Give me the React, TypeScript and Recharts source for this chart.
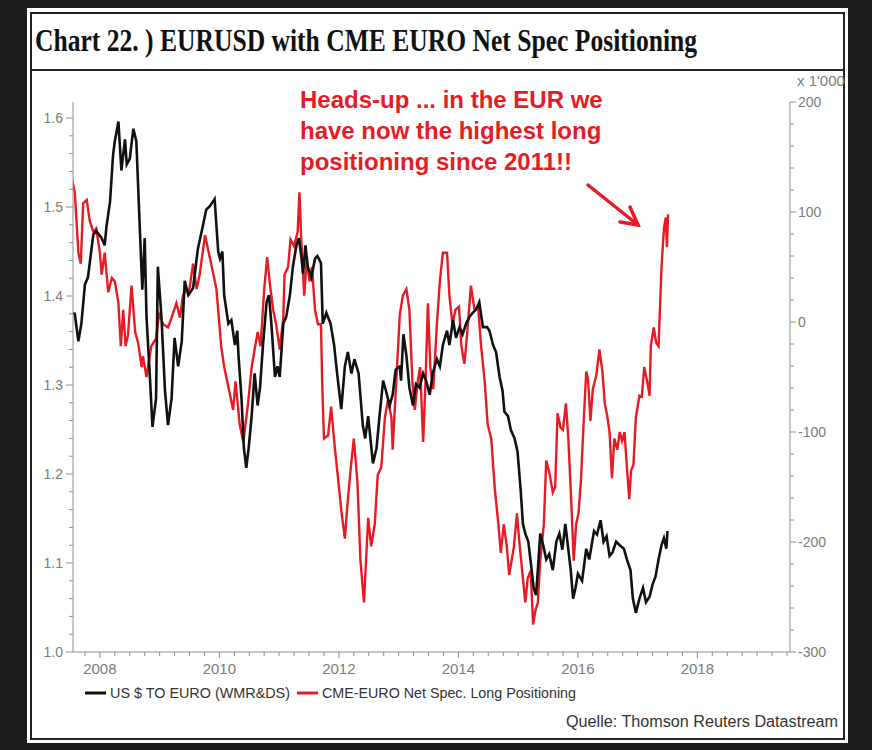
import React from 'react';
import { LineChart, Line, XAxis, YAxis } from 'recharts';

// ---------- DATA ----------
const eurTimes = [
  2007.53, 2007.58, 2007.64, 2007.69, 2007.75, 2007.8, 2007.89, 2007.94, 2008.03, 2008.08,
  2008.11, 2008.17, 2008.22, 2008.25, 2008.31, 2008.36, 2008.42, 2008.45, 2008.5, 2008.56,
  2008.61, 2008.67, 2008.71, 2008.75, 2008.78, 2008.84, 2008.88, 2008.94, 2008.97, 2009.03,
  2009.09, 2009.14, 2009.2, 2009.25, 2009.31, 2009.37, 2009.42, 2009.48, 2009.56, 2009.64,
  2009.73, 2009.78, 2009.84, 2009.92, 2009.98, 2010.01, 2010.05, 2010.08, 2010.15, 2010.2,
  2010.26, 2010.3, 2010.32, 2010.37, 2010.41, 2010.45, 2010.49, 2010.54, 2010.59, 2010.64,
  2010.68, 2010.73, 2010.79, 2010.83, 2010.87, 2010.93, 2010.97, 2011.01, 2011.07, 2011.12,
  2011.18, 2011.23, 2011.29, 2011.33, 2011.37, 2011.4, 2011.44, 2011.48, 2011.54, 2011.6,
  2011.64, 2011.7, 2011.73, 2011.79, 2011.86, 2011.92, 2011.97, 2012.04, 2012.1, 2012.15,
  2012.21, 2012.26, 2012.33, 2012.4, 2012.44, 2012.49, 2012.57, 2012.63, 2012.68, 2012.74,
  2012.79, 2012.85, 2012.9, 2012.95, 2013.02, 2013.04, 2013.08, 2013.13, 2013.18, 2013.24,
  2013.29, 2013.35, 2013.41, 2013.46, 2013.52, 2013.57, 2013.64, 2013.69, 2013.74, 2013.81,
  2013.85, 2013.91, 2013.96, 2014.02, 2014.07, 2014.13, 2014.19, 2014.24, 2014.3, 2014.35,
  2014.41, 2014.48, 2014.52, 2014.58, 2014.63, 2014.69, 2014.74, 2014.77, 2014.83, 2014.88,
  2014.94, 2014.99, 2015.04, 2015.08, 2015.12, 2015.17, 2015.22, 2015.26, 2015.3, 2015.33,
  2015.37, 2015.42, 2015.47, 2015.52, 2015.58, 2015.64, 2015.69, 2015.74, 2015.79, 2015.84,
  2015.88, 2015.92, 2015.96, 2016.0, 2016.07, 2016.14, 2016.19, 2016.27, 2016.32, 2016.38,
  2016.43, 2016.48, 2016.53, 2016.58, 2016.64, 2016.7, 2016.77, 2016.82, 2016.88, 2016.92,
  2016.97, 2017.03, 2017.09, 2017.14, 2017.2, 2017.25, 2017.3, 2017.35, 2017.4, 2017.44,
  2017.48, 2017.5,
];
const eurValues = [
  1.381, 1.38, 1.349, 1.369, 1.413, 1.421, 1.469, 1.473, 1.465, 1.457,
  1.478, 1.506, 1.558, 1.574, 1.596, 1.541, 1.576, 1.548, 1.554, 1.588,
  1.574, 1.473, 1.407, 1.465, 1.377, 1.305, 1.253, 1.285, 1.433, 1.377,
  1.293, 1.255, 1.285, 1.353, 1.321, 1.349, 1.417, 1.401, 1.409, 1.453,
  1.481, 1.497, 1.501, 1.509, 1.45, 1.442, 1.45, 1.401, 1.369, 1.373,
  1.345, 1.361, 1.333, 1.285, 1.229, 1.207, 1.229, 1.265, 1.313, 1.277,
  1.297, 1.345, 1.393, 1.401, 1.369, 1.309, 1.321, 1.309, 1.369, 1.377,
  1.401, 1.433, 1.457, 1.465, 1.445, 1.425, 1.457, 1.433, 1.421, 1.442,
  1.445, 1.437, 1.369, 1.381, 1.369, 1.345, 1.313, 1.273, 1.321, 1.337,
  1.313, 1.329, 1.313, 1.255, 1.24, 1.265, 1.212, 1.229, 1.265, 1.305,
  1.293, 1.277, 1.289, 1.317, 1.321, 1.305, 1.357, 1.333, 1.297, 1.277,
  1.301, 1.297, 1.313, 1.305, 1.289, 1.313, 1.329, 1.321, 1.345, 1.361,
  1.345, 1.373, 1.353, 1.365, 1.357, 1.369, 1.377, 1.381, 1.385, 1.393,
  1.365, 1.365, 1.361, 1.345, 1.337, 1.309, 1.293, 1.27, 1.265, 1.249,
  1.24, 1.225, 1.184, 1.144, 1.133, 1.124, 1.096, 1.072, 1.064, 1.092,
  1.133, 1.12, 1.104, 1.11, 1.092, 1.124, 1.133, 1.115, 1.144, 1.115,
  1.092, 1.06, 1.072, 1.088, 1.08, 1.116, 1.104, 1.136, 1.132, 1.148,
  1.124, 1.13, 1.108, 1.112, 1.124, 1.12, 1.116, 1.104, 1.092, 1.06,
  1.044, 1.06, 1.072, 1.056, 1.062, 1.076, 1.085, 1.104, 1.12, 1.128,
  1.116, 1.136,
];

const posTimes = [
  2007.53, 2007.58, 2007.64, 2007.68, 2007.72, 2007.78, 2007.83, 2007.89, 2007.94, 2008.0,
  2008.03, 2008.08, 2008.14, 2008.2, 2008.25, 2008.31, 2008.35, 2008.39, 2008.43, 2008.47,
  2008.53, 2008.59, 2008.64, 2008.7, 2008.72, 2008.78, 2008.86, 2008.94, 2008.99, 2009.06,
  2009.14, 2009.2, 2009.28, 2009.34, 2009.39, 2009.45, 2009.49, 2009.56, 2009.62, 2009.67,
  2009.76, 2009.81, 2009.89, 2009.95, 2009.99, 2010.03, 2010.08, 2010.17, 2010.23, 2010.27,
  2010.34, 2010.4, 2010.48, 2010.54, 2010.64, 2010.69, 2010.75, 2010.8, 2010.84, 2010.9,
  2010.95, 2011.01, 2011.07, 2011.09, 2011.15, 2011.19, 2011.25, 2011.31, 2011.34, 2011.37,
  2011.42, 2011.46, 2011.51, 2011.55, 2011.6, 2011.65, 2011.7, 2011.72, 2011.75, 2011.82,
  2011.87, 2011.93, 2011.98, 2012.04, 2012.1, 2012.14, 2012.2, 2012.25, 2012.31, 2012.36,
  2012.42, 2012.49, 2012.54, 2012.6, 2012.65, 2012.71, 2012.77, 2012.82, 2012.88, 2012.9,
  2012.96, 2013.02, 2013.07, 2013.13, 2013.18, 2013.23, 2013.27, 2013.32, 2013.36, 2013.41,
  2013.45, 2013.49, 2013.53, 2013.58, 2013.64, 2013.69, 2013.74, 2013.81, 2013.85, 2013.9,
  2013.95, 2014.01, 2014.05, 2014.1, 2014.14, 2014.21, 2014.27, 2014.33, 2014.38, 2014.44,
  2014.49, 2014.55, 2014.61, 2014.67, 2014.71, 2014.76, 2014.81, 2014.85, 2014.93, 2014.98,
  2015.02, 2015.08, 2015.12, 2015.16, 2015.21, 2015.25, 2015.29, 2015.33, 2015.37, 2015.43,
  2015.47, 2015.53, 2015.58, 2015.62, 2015.66, 2015.71, 2015.75, 2015.8, 2015.84, 2015.89,
  2015.93, 2015.97, 2016.01, 2016.05, 2016.1, 2016.14, 2016.17, 2016.21, 2016.25, 2016.31,
  2016.36, 2016.41, 2016.45, 2016.49, 2016.53, 2016.57, 2016.61, 2016.66, 2016.7, 2016.74,
  2016.78, 2016.82, 2016.86, 2016.89, 2016.93, 2016.97, 2017.03, 2017.07, 2017.11, 2017.16,
  2017.2, 2017.22, 2017.27, 2017.31, 2017.35, 2017.4, 2017.44, 2017.47, 2017.49, 2017.51,
];
const posValues = [
  131, 118, 63, 53, 108, 111, 92, 82, 85, 63,
  43, 63, 27, 40, 37, 17, -22, 11, -22, -12,
  33, -9, -19, -41, -31, -50, -22, -15, 7, -2,
  -5, 4, 17, 4, 24, 30, 27, 53, 30, 43,
  79, 66, 46, 30, 4, -22, -41, -64, -80, -54,
  -93, -109, -74, -41, -9, -22, 30, 59, 37, 11,
  -2, -25, 4, 43, 50, 75, 69, 82, 118, 75,
  24, 56, 37, 50, 11, -2, -2, -54, -106, -103,
  -77, -113, -139, -171, -197, -168, -132, -106, -145, -216,
  -255, -178, -204, -184, -139, -132, -87, -71, -87, -116,
  -54, 7, 24, 30, 11, -54, -80, -54, -41, -109,
  -54, 17, -41, -61, -2, 37, 63, 63, 24, -2,
  11, 14, -22, -38, -15, 33, 11, 14, -22, -54,
  -93, -106, -152, -184, -210, -184, -204, -230, -204, -174,
  -200, -233, -255, -233, -226, -275, -262, -255, -217, -184,
  -126, -139, -155, -150, -83, -96, -98, -74, -106, -164,
  -217, -184, -174, -145, -87, -45, -52, -90, -61, -48,
  -25, -45, -74, -85, -100, -142, -106, -116, -100, -108,
  -100, -132, -161, -135, -130, -87, -67, -68, -41, -54,
  -67, -22, -5, -19, -22, 50, 85, 95, 68, 98,
];

const yearLabels = [2008, 2010, 2012, 2014, 2016, 2018];
const leftLabels = [1.0, 1.1, 1.2, 1.3, 1.4, 1.5, 1.6];
const rightLabels = [-300, -200, -100, 0, 100, 200];
const seriesNames = ['US $ TO EURO (WMR&DS)', 'CME-EURO Net Spec. Long Positioning'];
const titleText = 'Chart 22. )  EURUSD with CME EURO Net Spec Positioning';
const noteLines = ['Heads-up ... in the EUR we', 'have now the highest long', 'positioning since 2011!!'];
const sourceText = 'Quelle: Thomson Reuters Datastream';
const unitText = "x 1'000";

// ---------- DERIVED ----------
const eurData = eurTimes.map((t, i) => ({ t, v: eurValues[i] }));
const posData = posTimes.map((t, i) => ({ t, v: posValues[i] }));

const xTicks: number[] = [];
for (let k = 0; k <= 47; k++) xTicks.push(Math.round((2007.75 + k * 0.25) * 100) / 100);
const leftTicks: number[] = [];
for (let k = 0; k <= 30; k++) leftTicks.push(Math.round((1 + k * 0.02) * 100) / 100);
const rightTicks: number[] = [];
for (let k = -300; k <= 200; k += 20) rightTicks.push(k);

const AXIS = '#8e8e8e';
const LABEL = '#7c7c7c';
const RED = '#e61b24';
const BLACK = '#111111';
const SANS = '"Liberation Sans", Arial, sans-serif';

const near = (a: number, list: number[]) => list.some((b) => Math.abs(a - b) < 1e-6);

const XTick = (p: any) => {
  const { x, y, payload } = p;
  const v = payload.value;
  const major = near(v, yearLabels);
  return (
    <g>
      <line x1={x} y1={y} x2={x} y2={y + (major ? 6 : 4)} stroke={AXIS} strokeWidth={1} />
      {major && (
        <text x={x} y={y + 22} textAnchor="middle" fill={LABEL} fontSize={15} fontFamily={SANS}>
          {String(v)}
        </text>
      )}
    </g>
  );
};

const LeftTick = (p: any) => {
  const { x, y, payload } = p;
  const v = payload.value;
  const major = near(v, leftLabels);
  return (
    <g>
      <line x1={x} y1={y} x2={x - (major ? 7 : 4)} y2={y} stroke={AXIS} strokeWidth={1} />
      {major && (
        <text x={x - 10} y={y + 5} textAnchor="end" fill={LABEL} fontSize={14} fontFamily={SANS}>
          {v.toFixed(1)}
        </text>
      )}
    </g>
  );
};

const RightTick = (p: any) => {
  const { x, y, payload } = p;
  const v = payload.value;
  const major = near(v, rightLabels);
  return (
    <g>
      <line x1={x} y1={y} x2={x + (major ? 6 : 4)} y2={y} stroke={AXIS} strokeWidth={1} />
      {major && (
        <text x={x + 8} y={y + 5} textAnchor="start" fill={LABEL} fontSize={14} fontFamily={SANS}>
          {String(v)}
        </text>
      )}
    </g>
  );
};

export default function App() {
  return (
    <div
      style={{
        position: 'absolute',
        left: 0,
        top: 0,
        width: 872,
        height: 750,
        background: '#1d1d1d',
        overflow: 'hidden',
      }}
    >
      <div
        style={{
          position: 'absolute',
          left: 27,
          top: 8,
          width: 821,
          height: 735,
          background: '#ffffff',
          overflow: 'hidden',
        }}
      />
      <svg width={872} height={750} style={{ position: 'absolute', left: 0, top: 0 }}>
        <rect x={31} y={13} width={813} height={726} fill="none" stroke="#222" strokeWidth={2} />
        <line x1={31} y1={70} x2={844} y2={70} stroke="#222" strokeWidth={2} />
        <text
          x={35}
          y={51}
          fontFamily='"Liberation Serif", "Times New Roman", serif'
          fontWeight="bold"
          fontSize={32}
          fill="#111"
          textLength={662}
          lengthAdjust="spacingAndGlyphs"
        >
          {titleText}
        </text>
      </svg>
      <div style={{ position: 'absolute', left: 0, top: 0 }}>
        <LineChart width={872} height={750} margin={{ top: 102, right: 22, bottom: 68, left: 13 }}>
          <XAxis
            dataKey="t"
            type="number"
            domain={[2007.55, 2019.55]}
            ticks={xTicks}
            interval={0}
            allowDataOverflow
            tickSize={0}
            tickMargin={0}
            tickLine={false}
            axisLine={{ stroke: AXIS }}
            tick={(p: any) => <XTick {...p} />}
            height={30}
          />
          <YAxis
            yAxisId="l"
            orientation="left"
            type="number"
            domain={[1.0, 1.618]}
            ticks={leftTicks}
            interval={0}
            allowDataOverflow
            tickSize={0}
            tickMargin={0}
            tickLine={false}
            axisLine={{ stroke: AXIS }}
            tick={(p: any) => <LeftTick {...p} />}
            width={60}
          />
          <YAxis
            yAxisId="r"
            orientation="right"
            type="number"
            domain={[-300, 200]}
            ticks={rightTicks}
            interval={0}
            allowDataOverflow
            tickSize={0}
            tickMargin={0}
            tickLine={false}
            axisLine={{ stroke: AXIS }}
            tick={(p: any) => <RightTick {...p} />}
            width={60}
          />
          <Line
            yAxisId="r"
            data={posData}
            dataKey="v"
            type="linear"
            stroke={RED}
            strokeWidth={2.4}
            dot={false}
            activeDot={false}
            isAnimationActive={false}
          />
          <Line
            yAxisId="l"
            data={eurData}
            dataKey="v"
            type="linear"
            stroke={BLACK}
            strokeWidth={2.6}
            dot={false}
            activeDot={false}
            isAnimationActive={false}
          />
        </LineChart>
      </div>
      <svg width={872} height={750} style={{ position: 'absolute', left: 0, top: 0, pointerEvents: 'none' }}>
        <text x={797} y={86} fill={LABEL} fontSize={15} fontFamily={SANS}>
          {unitText}
        </text>
        {noteLines.map((s, i) => (
          <text
            key={i}
            x={300}
            y={108 + i * 31}
            fill={RED}
            fontSize={24}
            fontWeight="bold"
            fontFamily={SANS}
          >
            {s}
          </text>
        ))}
        <g stroke={RED} strokeWidth={3.5} strokeLinecap="round" fill="none">
          <line x1={588} y1={185} x2={638} y2={225} />
          <polyline points="620,222 638,225 630,207" strokeLinejoin="miter" />
        </g>
        <line x1={85} y1={693} x2={106} y2={693} stroke={BLACK} strokeWidth={3} />
        <text x={110} y={698} fill="#333" fontSize={14} fontFamily={SANS} textLength={180} lengthAdjust="spacingAndGlyphs">
          {seriesNames[0]}
        </text>
        <line x1={297} y1={693} x2={318} y2={693} stroke={RED} strokeWidth={3} />
        <text x={322} y={698} fill="#333" fontSize={14} fontFamily={SANS} textLength={254} lengthAdjust="spacingAndGlyphs">
          {seriesNames[1]}
        </text>
        <text x={838} y={727} textAnchor="end" fill="#333" fontSize={16} fontFamily={SANS} textLength={272} lengthAdjust="spacingAndGlyphs">
          {sourceText}
        </text>
      </svg>
    </div>
  );
}
